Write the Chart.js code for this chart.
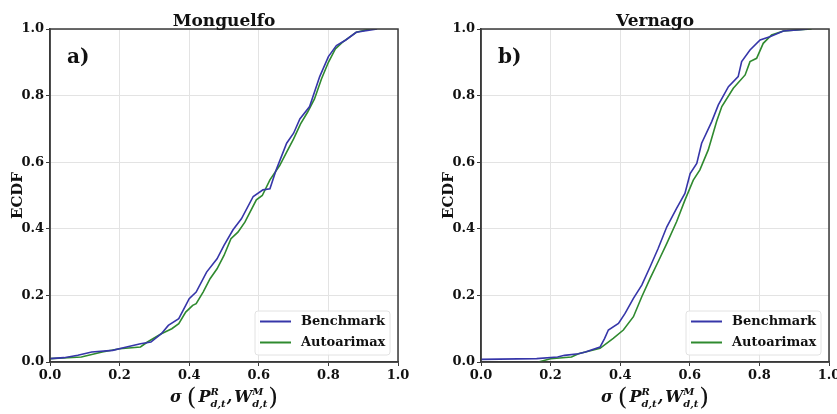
<!DOCTYPE html>
<html>
<head>
<meta charset="utf-8">
<script src="https://cdn.jsdelivr.net/npm/chart.js@4.4.0/dist/chart.umd.min.js"></script>
<style>
  html, body { margin: 0; padding: 0; background: #fff; }
  body { width: 837px; height: 414px; position: relative; overflow: hidden; }
  .panel { position: absolute; top: 0; height: 414px; }
  #leftPanel { left: 0; width: 431px; }
  #rightPanel { left: 431px; width: 406px; }
</style>
</head>
<body>
<div class="panel" id="leftPanel"><canvas id="chartLeft"></canvas></div>
<div class="panel" id="rightPanel"><canvas id="chartRight"></canvas></div>
<script>
// Panel titles, panel tags and series names
const panelTitles = ['Monguelfo', 'Vernago'];
const panelTags = ['a)', 'b)'];
const seriesNames = ['Benchmark', 'Autoarimax'];
const axisTicks = [0.0, 0.2, 0.4, 0.6, 0.8, 1.0];

// Monguelfo ECDF
const monBenchX = [0.00, 0.04, 0.08, 0.12, 0.18, 0.22, 0.26, 0.29, 0.32, 0.34, 0.37, 0.39, 0.40, 0.42, 0.45, 0.48, 0.50, 0.526, 0.55, 0.584, 0.612, 0.632, 0.65, 0.68, 0.70, 0.718, 0.746, 0.775, 0.80, 0.823, 0.85, 0.88, 0.94];
const monBenchY = [0.010, 0.013, 0.020, 0.030, 0.035, 0.045, 0.055, 0.060, 0.085, 0.110, 0.130, 0.170, 0.190, 0.210, 0.270, 0.310, 0.350, 0.397, 0.430, 0.497, 0.517, 0.520, 0.577, 0.657, 0.687, 0.730, 0.767, 0.857, 0.917, 0.950, 0.967, 0.990, 1.000];
const monAutoX = [0.00, 0.09, 0.15, 0.20, 0.26, 0.28, 0.32, 0.35, 0.37, 0.39, 0.41, 0.42, 0.44, 0.46, 0.48, 0.50, 0.52, 0.54, 0.56, 0.593, 0.61, 0.632, 0.66, 0.68, 0.70, 0.72, 0.74, 0.76, 0.78, 0.80, 0.82, 0.84, 0.86, 0.88, 0.92];
const monAutoY = [0.010, 0.015, 0.030, 0.040, 0.045, 0.060, 0.085, 0.100, 0.115, 0.150, 0.170, 0.175, 0.210, 0.250, 0.280, 0.320, 0.370, 0.390, 0.420, 0.487, 0.500, 0.547, 0.590, 0.630, 0.670, 0.715, 0.750, 0.790, 0.850, 0.900, 0.940, 0.960, 0.975, 0.990, 1.000];

// Vernago ECDF
const verBenchX = [0.00, 0.16, 0.22, 0.24, 0.28, 0.30, 0.342, 0.355, 0.366, 0.395, 0.414, 0.438, 0.462, 0.486, 0.509, 0.534, 0.562, 0.586, 0.601, 0.620, 0.634, 0.663, 0.682, 0.711, 0.739, 0.749, 0.773, 0.802, 0.830, 0.869, 0.917, 0.94];
const verBenchY = [0.008, 0.010, 0.015, 0.020, 0.025, 0.030, 0.045, 0.070, 0.096, 0.116, 0.146, 0.191, 0.231, 0.286, 0.341, 0.406, 0.461, 0.506, 0.566, 0.596, 0.657, 0.722, 0.772, 0.827, 0.857, 0.902, 0.937, 0.967, 0.977, 0.994, 0.998, 1.000];
const verAutoX = [0.165, 0.20, 0.26, 0.28, 0.32, 0.342, 0.380, 0.409, 0.438, 0.462, 0.486, 0.509, 0.534, 0.562, 0.586, 0.610, 0.629, 0.653, 0.677, 0.692, 0.725, 0.759, 0.773, 0.792, 0.811, 0.835, 0.869, 0.917, 0.95];
const verAutoY = [0.000, 0.010, 0.015, 0.025, 0.035, 0.041, 0.071, 0.096, 0.136, 0.196, 0.251, 0.301, 0.356, 0.421, 0.486, 0.546, 0.577, 0.637, 0.722, 0.767, 0.822, 0.862, 0.902, 0.912, 0.957, 0.982, 0.994, 0.998, 1.000];

const BLUE = '#3636a9';
const GREEN = '#2f8a2f';
const SERIF = "'DejaVu Serif', 'Liberation Serif', serif";

const toPoints = (xs, ys) => xs.map((x, i) => ({ x: x, y: ys[i] }));

// Draws the panel title, the tag, the frame, the legend and the x label
const decorPlugin = {
    id: 'decor',
    afterDraw(chart, args, opts) {
        const ctx = chart.ctx;
        const area = chart.chartArea;
        const cx = (area.left + area.right) / 2;
        ctx.save();

        // frame on top and right
        ctx.strokeStyle = '#3a3a3a';
        ctx.lineWidth = 1.5;
        ctx.strokeRect(area.left, area.top, area.right - area.left, area.bottom - area.top);

        // title
        ctx.fillStyle = '#111';
        ctx.font = `bold 17px ${SERIF}`;
        ctx.textAlign = 'center';
        ctx.textBaseline = 'alphabetic';
        ctx.fillText(opts.title, cx, area.top - 3);

        // panel tag
        ctx.font = `bold 20px ${SERIF}`;
        ctx.textAlign = 'left';
        ctx.fillText(opts.tag, area.left + 17, area.top + 34);

        // legend box
        const lx = area.right - 143, ly = area.bottom - 51, lw = 135, lh = 44;
        ctx.fillStyle = 'rgba(255,255,255,0.85)';
        ctx.strokeStyle = '#e2e2e2';
        ctx.lineWidth = 1;
        ctx.beginPath();
        ctx.roundRect(lx, ly, lw, lh, 3);
        ctx.fill();
        ctx.stroke();
        chart.data.datasets.forEach((ds, i) => {
            const y = ly + 10.5 + i * 21;
            ctx.strokeStyle = ds.borderColor;
            ctx.lineWidth = 2;
            ctx.beginPath();
            ctx.moveTo(lx + 5, y);
            ctx.lineTo(lx + 36, y);
            ctx.stroke();
            ctx.fillStyle = '#111';
            ctx.font = `bold 13px ${SERIF}`;
            ctx.textBaseline = 'middle';
            ctx.fillText(ds.label, lx + 46, y);
        });

        // x axis label: sigma ( P^R_{d,t}, W^M_{d,t} )
        const main = `italic bold 16px ${SERIF}`;
        const small = `italic bold 10px ${SERIF}`;
        const paren = `25px ${SERIF}`;
        const pieces = [
            { t: '\u03c3', f: main, dy: 0, gap: 5 },
            { t: '(', f: paren, dy: 3, gap: 2 },
            { t: 'P', f: main, dy: 0, gap: 0 },
            { t: 'R', f: small, dy: -7, stack: 'd,t', gap: 1 },
            { t: ',', f: main, dy: 0, gap: 2 },
            { t: 'W', f: main, dy: 0, gap: 0 },
            { t: 'M', f: small, dy: -7, stack: 'd,t', gap: 1 },
            { t: ')', f: paren, dy: 3, gap: 0 }
        ];
        let total = 0;
        pieces.forEach(p => {
            ctx.font = p.f;
            let w = ctx.measureText(p.t).width;
            if (p.stack) {
                w = Math.max(w, ctx.measureText(p.stack).width);
            }
            p.w = w;
            total += w + (p.gap || 0);
        });
        let x = cx - total / 2;
        const base = 402;
        ctx.textAlign = 'left';
        ctx.textBaseline = 'alphabetic';
        ctx.fillStyle = '#111';
        pieces.forEach(p => {
            ctx.font = p.f;
            ctx.fillText(p.t, x, base + p.dy);
            if (p.stack) {
                ctx.fillText(p.stack, x, base + 5);
            }
            x += p.w + (p.gap || 0);
        });

        ctx.restore();
    }
};

const makeChart = (canvasId, idx, bench, auto, rightPad) => {
    const ctx = document.getElementById(canvasId).getContext('2d');
    return new Chart(ctx, {
        type: 'line',
        data: {
            datasets: [
                { label: seriesNames[0], data: bench, borderColor: BLUE, borderWidth: 1.6, pointRadius: 0, tension: 0, fill: false },
                { label: seriesNames[1], data: auto, borderColor: GREEN, borderWidth: 1.6, pointRadius: 0, tension: 0, fill: false }
            ]
        },
        options: {
            responsive: true,
            maintainAspectRatio: false,
            animation: false,
            layout: { padding: { top: 29, left: 0, right: rightPad, bottom: 0 } },
            scales: {
                x: {
                    type: 'linear',
                    min: 0,
                    max: 1,
                    afterBuildTicks: (scale) => { scale.ticks = axisTicks.map(v => ({ value: v })); },
                    afterFit: (scale) => { scale.height = 52; scale.paddingLeft = 0; scale.paddingRight = 0; },
                    ticks: {
                        color: '#111',
                        font: { family: SERIF, size: 13, weight: 'bold' },
                        padding: 2,
                        maxRotation: 0,
                        callback: (v) => Number(v).toFixed(1)
                    },
                    grid: { color: '#e3e3e3', tickColor: '#3a3a3a', tickLength: 4, lineWidth: 1 },
                    border: { color: '#3a3a3a', width: 1.5 }
                },
                y: {
                    min: 0,
                    max: 1,
                    afterBuildTicks: (scale) => { scale.ticks = axisTicks.map(v => ({ value: v })); },
                    afterFit: (scale) => { scale.width = 50; scale.paddingTop = 0; scale.paddingBottom = 0; },
                    ticks: {
                        color: '#111',
                        font: { family: SERIF, size: 13, weight: 'bold' },
                        padding: 2,
                        callback: (v) => Number(v).toFixed(1)
                    },
                    title: {
                        display: true,
                        text: 'ECDF',
                        color: '#111',
                        font: { family: SERIF, size: 15, weight: 'bold' },
                        padding: { top: 9, bottom: 0 }
                    },
                    grid: { color: '#e3e3e3', tickColor: '#3a3a3a', tickLength: 4, lineWidth: 1 },
                    border: { color: '#3a3a3a', width: 1.5 }
                }
            },
            plugins: {
                legend: { display: false },
                tooltip: { enabled: false },
                decor: { title: panelTitles[idx], tag: panelTags[idx] }
            }
        },
        plugins: [decorPlugin]
    });
};

makeChart('chartLeft', 0, toPoints(monBenchX, monBenchY), toPoints(monAutoX, monAutoY), 33);
makeChart('chartRight', 1, toPoints(verBenchX, verBenchY), toPoints(verAutoX, verAutoY), 8);
</script>
</body>
</html>
